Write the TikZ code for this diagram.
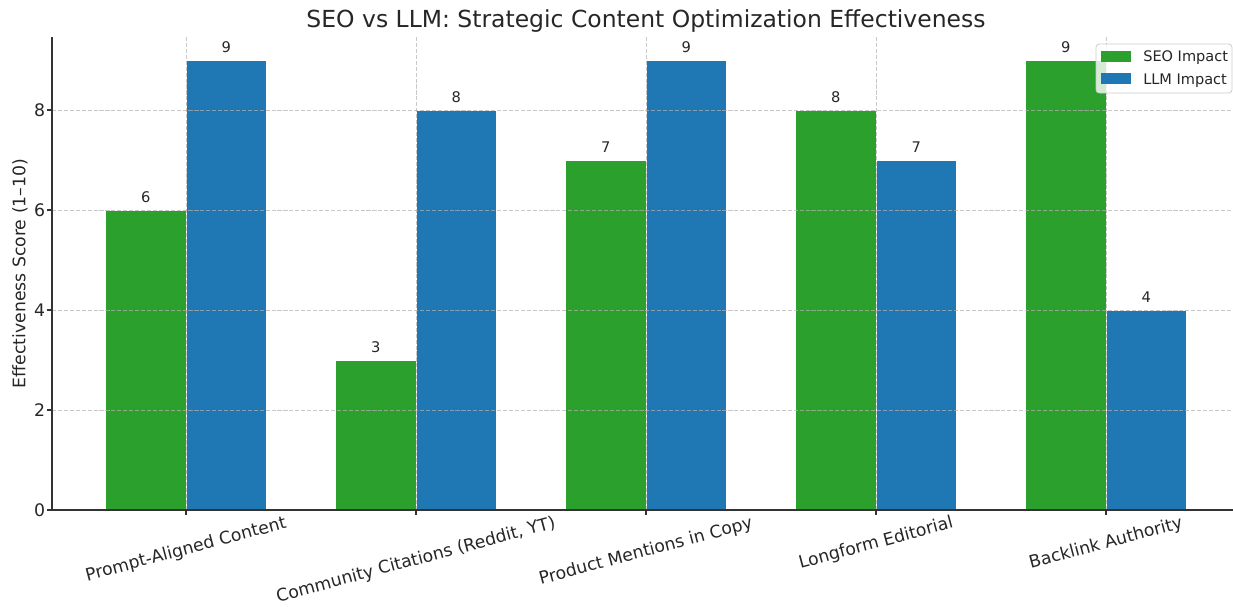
\documentclass[tikz,border=0pt]{standalone}
\usepackage{fontspec}
\setmainfont{DejaVu Sans}
\definecolor{seo}{HTML}{2CA02C}
\definecolor{llm}{HTML}{1F77B4}
\definecolor{txt}{HTML}{262626}
\definecolor{gridc}{HTML}{B0B0B0}
\definecolor{spinec}{HTML}{333333}
\newsavebox\xlbox
\newcommand\prepxl[2]{%
  \sbox\xlbox{\fontsize{12.95}{15.5}\selectfont #2}%
  \pgfmathsetmacro#1{515+(\the\wd\xlbox*sin(15)+(\the\ht\xlbox+\the\dp\xlbox)*cos(15))/1.5}%
}
\begin{document}
\prepxl\yxa{Prompt-Aligned Content}%
\prepxl\yxb{Community Citations (Reddit, YT)}%
\prepxl\yxc{Product Mentions in Copy}%
\prepxl\yxd{Longform Editorial}%
\prepxl\yxe{Backlink Authority}%
\begin{tikzpicture}[x=0.75pt,y=-0.75pt,
  bar/.style={draw=white, line width=0.3pt},
  vlab/.style={anchor=base, inner sep=0pt, text=txt, font=\fontsize{11}{13}\selectfont},
  xl/.style={rotate=15, anchor=center, inner sep=0pt, text=txt, font=\fontsize{12.95}{15.5}\selectfont},
  yl/.style={anchor=east, inner sep=0pt, text=txt, font=\fontsize{12.95}{15.5}\selectfont},
  gridline/.style={draw=gridc, draw opacity=0.7, line width=0.6pt, dash pattern=on 3.1pt off 1.35pt},
  spine/.style={draw=spinec, line width=1.2pt},
  tickmark/.style={draw=spinec, line width=0.9pt},
  legtext/.style={anchor=base west, inner sep=0pt, text=txt, font=\fontsize{10.9}{13}\selectfont}]
\useasboundingbox (0,0) rectangle (1233,607);
% bars and value labels
\foreach \i/\s/\l in {0/6/9,1/3/8,2/7/9,3/8/7,4/9/4} {
  \pgfmathsetmacro\cx{186+230*\i}
  \path[bar, fill=seo] (\cx-80.5,510) rectangle (\cx,510-50*\s);
  \path[bar, fill=llm] (\cx,510) rectangle (\cx+80.5,510-50*\l);
  \node[vlab] (sv\i) at (\cx-40.25,510-50*\s-8) {\s};
  \node[vlab] (lv\i) at (\cx+40.25,510-50*\l-8) {\l};
}
% grid
\foreach \y in {110,210,310,410} { \draw[gridline] (52,\y) -- (1233,\y); }
\foreach \i in {0,...,4} { \draw[gridline] (186+230*\i,37) -- (186+230*\i,510); }
% legend
\draw[draw=black!20, fill=white, fill opacity=0.8, rounded corners=2.5pt, line width=0.6pt] (1096,44) rectangle (1232,93);
\fill[seo] (1101,51) rectangle (1131,62);
\fill[llm] (1101,73) rectangle (1131,84);
\node[legtext] (legseo) at (1143,61.7) {SEO Impact};
\node[legtext] (legllm) at (1143,84) {LLM Impact};
% spines
\draw[spine] (52,37) -- (52,510) -- (1233,510);
% y ticks
\foreach \v in {0,2,4,6,8} {
  \draw[tickmark] (47,510-50*\v) -- (52,510-50*\v);
  \node[yl] (yt\v) at (45.5,510-50*\v) {\v};
}
% x ticks and labels
\foreach \i in {0,...,4} { \draw[tickmark] (186+230*\i,510) -- (186+230*\i,515); }
\node[xl] (x0) at (186,\yxa) {Prompt-Aligned Content};
\node[xl] (x1) at (416,\yxb) {Community Citations (Reddit, YT)};
\node[xl] (x2) at (646,\yxc) {Product Mentions in Copy};
\node[xl] (x3) at (876,\yxd) {Longform Editorial};
\node[xl] (x4) at (1106,\yxe) {Backlink Authority};
% axis label and title
\node[rotate=90, inner sep=0pt, text=txt, font=\fontsize{12.95}{15.5}\selectfont] (ylab) at (20,273.5) {Effectiveness Score (1–10)};
\node[anchor=base, inner sep=0pt, text=txt, font=\fontsize{17.6}{21}\selectfont] (title) at (646,27) {SEO vs LLM: Strategic Content Optimization Effectiveness};
\end{tikzpicture}
\end{document}
